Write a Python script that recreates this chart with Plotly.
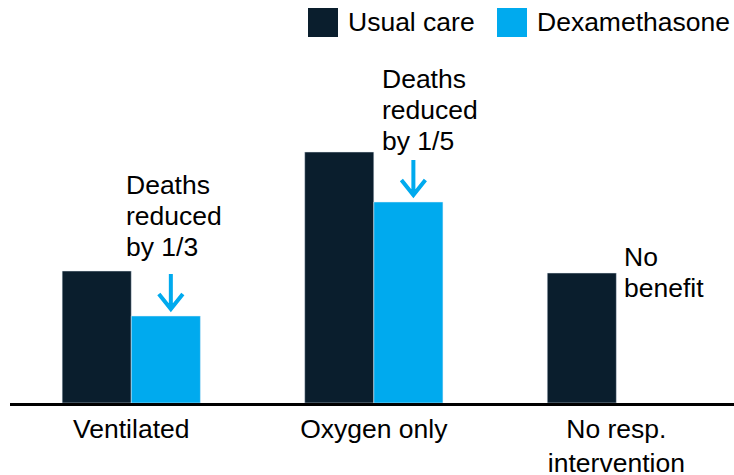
import plotly.graph_objects as go

categories = ["Ventilated", "Oxygen only", "No resp.<br>intervention"]
usual_care = [132, 251, 130]
dexamethasone = [87, 201, None]
notes = [["Deaths", "reduced", "by 1/3"], ["Deaths", "reduced", "by 1/5"], ["No", "benefit"]]

DARK = "#0a1e2d"
BLUE = "#00aaee"
FONT = "Liberation Sans, Arial, sans-serif"
FS = 26.5
BARGAP = 0.43
LINE = 31  # spacing between note lines, px

fig = go.Figure()
fig.add_trace(go.Bar(x=categories, y=usual_care, name="Usual care", marker_color=DARK))
fig.add_trace(go.Bar(x=categories, y=dexamethasone, name="Dexamethasone", marker_color=BLUE))

# offset of the dexamethasone bar centre from the category centre
half = (1 - BARGAP) / 4

# down arrows above the reduced bars
for i, v in enumerate(dexamethasone):
    if v is None:
        continue
    fig.add_shape(
        type="path", xref="x", yref="y",
        xsizemode="pixel", ysizemode="pixel",
        xanchor=i + half, yanchor=v,
        path="M5,7 L5,42 M-7,22 L5,7 L17,22",
        line=dict(color=BLUE, width=4),
    )


def add_note(i, y, lines, xshift, last_shift):
    # one annotation per line so the line spacing can be set
    n = len(lines)
    for k, txt in enumerate(lines):
        fig.add_annotation(x=i, y=y, text=txt, showarrow=False,
                           xanchor="left", yanchor="middle", align="left",
                           xshift=xshift, yshift=last_shift + (n - 1 - k) * LINE)


add_note(0, dexamethasone[0], notes[0], -7, 69)
add_note(1, dexamethasone[1], notes[1], 6, 61)
add_note(2, usual_care[2], notes[2], 6, -15)

# custom legend with big squares
legend_items = [("Usual care", DARK, 308), ("Dexamethasone", BLUE, 497)]
for name, col, px in legend_items:
    fig.add_shape(type="rect", xref="paper", yref="paper",
                  xsizemode="pixel", ysizemode="pixel",
                  xanchor=(px - 10) / 724, yanchor=1 + 13 / 353,
                  x0=0, x1=30, y0=0, y1=29,
                  fillcolor=col, line_width=0)
    fig.add_annotation(xref="paper", yref="paper", x=(px + 38 - 10) / 724, y=1 + 28 / 353,
                       text=name, showarrow=False, xanchor="left", yanchor="middle")

fig.update_layout(
    width=734, height=475,
    margin=dict(l=10, r=0, t=50, b=72),
    paper_bgcolor="white", plot_bgcolor="white",
    font=dict(family=FONT, size=FS, color="black"),
    barmode="group", bargap=BARGAP, bargroupgap=0,
    showlegend=False,
)
fig.update_xaxes(type="category", range=[-0.5, 2.485], showline=True, linecolor="black",
                 linewidth=2.5, ticks="", showgrid=False, tickfont=dict(size=FS),
                 ticklabelstandoff=0, automargin=False)
fig.update_yaxes(range=[0, 353], visible=False, showgrid=False, zeroline=False,
                 automargin=False)

# drop the default 8px body margin so the figure fills the window
fig.write_html("out.html", config={"displayModeBar": False},
               post_script="document.body.style.margin='0';document.body.style.overflow='hidden';")
